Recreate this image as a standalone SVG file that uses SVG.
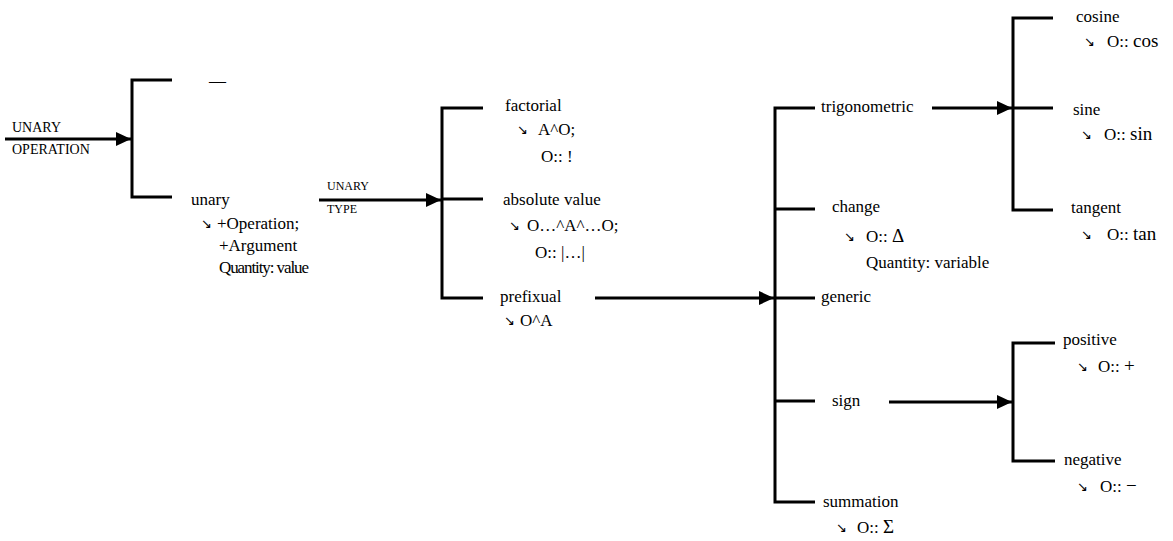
<svg xmlns="http://www.w3.org/2000/svg" width="1173" height="541" viewBox="0 0 1173 541">
<style>
.t{font-family:"Liberation Serif","DejaVu Serif",serif;font-size:17px;fill:#000}
.s{font-size:12px}
.s2{font-size:14px}
.a{font-family:"DejaVu Sans","Liberation Serif",sans-serif;font-size:13px}
.big{font-size:19px}
.b{fill:none;stroke:#000;stroke-width:3}
</style>
<defs>
<marker id="ah" markerUnits="userSpaceOnUse" markerWidth="15" markerHeight="14" refX="15" refY="7" orient="auto">
<path d="M0,0 L15,7 L0,14 z" fill="#000"/>
</marker>
</defs>
<rect width="1173" height="541" fill="#fff"/>
<g id="connectors">
<path class="b" d="M172,80 H132 V197 H172"/>
<path class="b" d="M5,139 H131" marker-end="url(#ah)"/>
<path class="b" d="M483,108 H442 V298 H483 M442,199 H483"/>
<path class="b" d="M319,200 H441" marker-end="url(#ah)"/>
<path class="b" d="M595,298 H774" marker-end="url(#ah)"/>
<path class="b" d="M815,108 H775 V502 H815 M775,209 H815 M775,298 H815 M775,401 H815"/>
<path class="b" d="M932,108 H1012" marker-end="url(#ah)"/>
<path class="b" d="M1053,18 H1013 V210 H1053 M1013,108 H1053"/>
<path class="b" d="M889,402 H1012" marker-end="url(#ah)"/>
<path class="b" d="M1055,343 H1013 V461 H1055"/>
</g>
<g id="label-unary-operation">
<text class="t s2" x="12" y="132">UNARY</text>
<text class="t s2" x="12" y="154">OPERATION</text>
</g>
<g id="node-dash">
<text class="t" x="209" y="86">—</text>
</g>
<g id="node-unary">
<text class="t" x="191" y="205">unary</text>
<text class="t a" x="201" y="228">↘</text>
<text class="t" x="217" y="229">+Operation;</text>
<text class="t" x="219" y="251">+Argument</text>
<text class="t" x="219" y="273" textLength="90">Quantity: value</text>
</g>
<g id="label-unary-type">
<text class="t s" x="327" y="190">UNARY</text>
<text class="t s" x="327" y="213">TYPE</text>
</g>
<g id="node-factorial">
<text class="t" x="505" y="111">factorial</text>
<text class="t a" x="517" y="134">↘</text>
<text class="t" x="538" y="135">A^O;</text>
<text class="t" x="541" y="162">O:: !</text>
</g>
<g id="node-absolute">
<text class="t" x="503" y="205">absolute value</text>
<text class="t a" x="509" y="230">↘</text>
<text class="t" x="527" y="231">O…^A^…O;</text>
<text class="t" x="535" y="258">O:: |…|</text>
</g>
<g id="node-prefixual">
<text class="t" x="500" y="302">prefixual</text>
<text class="t a" x="504" y="325">↘</text>
<text class="t" x="520" y="326">O^A</text>
</g>
<g id="node-trigonometric">
<text class="t" x="821" y="112">trigonometric</text>
</g>
<g id="node-change">
<text class="t" x="832" y="212">change</text>
<text class="t a" x="844" y="241">↘</text>
<text class="t" x="866" y="242">O:: <tspan class="big">Δ</tspan></text>
<text class="t" x="866" y="268">Quantity: variable</text>
</g>
<g id="node-generic">
<text class="t" x="821" y="302">generic</text>
</g>
<g id="node-sign">
<text class="t" x="832" y="406">sign</text>
</g>
<g id="node-summation">
<text class="t" x="823" y="507">summation</text>
<text class="t a" x="836" y="532">↘</text>
<text class="t" x="857" y="533">O:: <tspan class="big">Σ</tspan></text>
</g>
<g id="node-cosine">
<text class="t" x="1076" y="22">cosine</text>
<text class="t a" x="1084" y="46">↘</text>
<text class="t" x="1107" y="47">O:: <tspan class="big">cos</tspan></text>
</g>
<g id="node-sine">
<text class="t" x="1073" y="115">sine</text>
<text class="t a" x="1081" y="139">↘</text>
<text class="t" x="1104" y="140">O:: <tspan class="big">sin</tspan></text>
</g>
<g id="node-tangent">
<text class="t" x="1071" y="213">tangent</text>
<text class="t a" x="1081" y="239">↘</text>
<text class="t" x="1107" y="240">O:: <tspan class="big">tan</tspan></text>
</g>
<g id="node-positive">
<text class="t" x="1063" y="345">positive</text>
<text class="t a" x="1077" y="371">↘</text>
<text class="t" x="1098" y="372">O:: <tspan class="big">+</tspan></text>
</g>
<g id="node-negative">
<text class="t" x="1064" y="465">negative</text>
<text class="t a" x="1077" y="491">↘</text>
<text class="t" x="1100" y="492">O:: <tspan class="big">−</tspan></text>
</g>
</svg>
